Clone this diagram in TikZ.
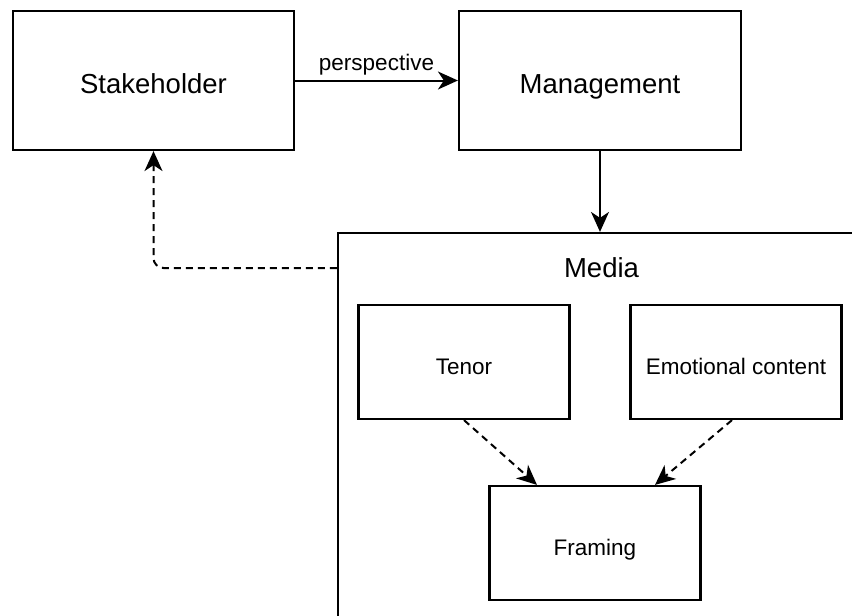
\documentclass[tikz,border=0pt]{standalone}
\usepackage{fontspec}
\setmainfont{Liberation Sans}
\usetikzlibrary{arrows.meta}
\begin{document}
\begin{tikzpicture}[x=1pt,y=-1pt,
  box/.style={draw=black, line width=2.2pt, fill=white, rectangle, inner sep=0pt},
  bigtext/.style={font=\fontsize{27.5}{32}\selectfont, text height=26.8pt, text depth=0pt},
  smalltext/.style={font=\fontsize{22.5}{27}\selectfont, text height=25.2pt, text depth=0pt},
  arr/.style={line width=2pt, -{Stealth[length=20pt, width=18pt, inset=6pt]}},
  darr/.style={arr, dash pattern=on 7pt off 5pt}
]
\useasboundingbox (0,0) rectangle (852,616);
\clip (0,0) rectangle (852,616);
\fill[white] (0,0) rectangle (852,616);

\node[box, bigtext, minimum width=281pt, minimum height=139pt] (stake) at (153.5,80.5) {Stakeholder};
\node[box, bigtext, minimum width=282pt, minimum height=139pt] (mgmt) at (600,80.5) {Management};
\node[box, minimum width=562pt, minimum height=467pt] (media) at (619,466.5) {};
\node[font=\fontsize{27.5}{32}\selectfont, inner sep=0pt] (mediatitle) at (601.5,268) {Media};
\node[box, smalltext, minimum width=211pt, minimum height=114pt] (tenor) at (464,362) {Tenor};
\node[box, smalltext, minimum width=211pt, minimum height=114pt] (emo) at (736,362) {Emotional content};
\node[box, smalltext, minimum width=211pt, minimum height=114pt] (framing) at (595,543) {Framing};

\draw[arr] (stake.east) -- node[font=\fontsize{22.5}{27}\selectfont, above, inner sep=4pt] (persp) {perspective} (mgmt.west);
\draw[arr] (mgmt.south) -- (mgmt.south |- media.north);
\draw[darr, rounded corners=10pt] (media.west |- mediatitle.center) -| (stake.south);
\draw[darr] (tenor.south) -- ([xshift=-58pt]framing.north);
\draw[darr] ([xshift=-4pt]emo.south) -- ([xshift=60pt]framing.north);
\end{tikzpicture}
\end{document}
